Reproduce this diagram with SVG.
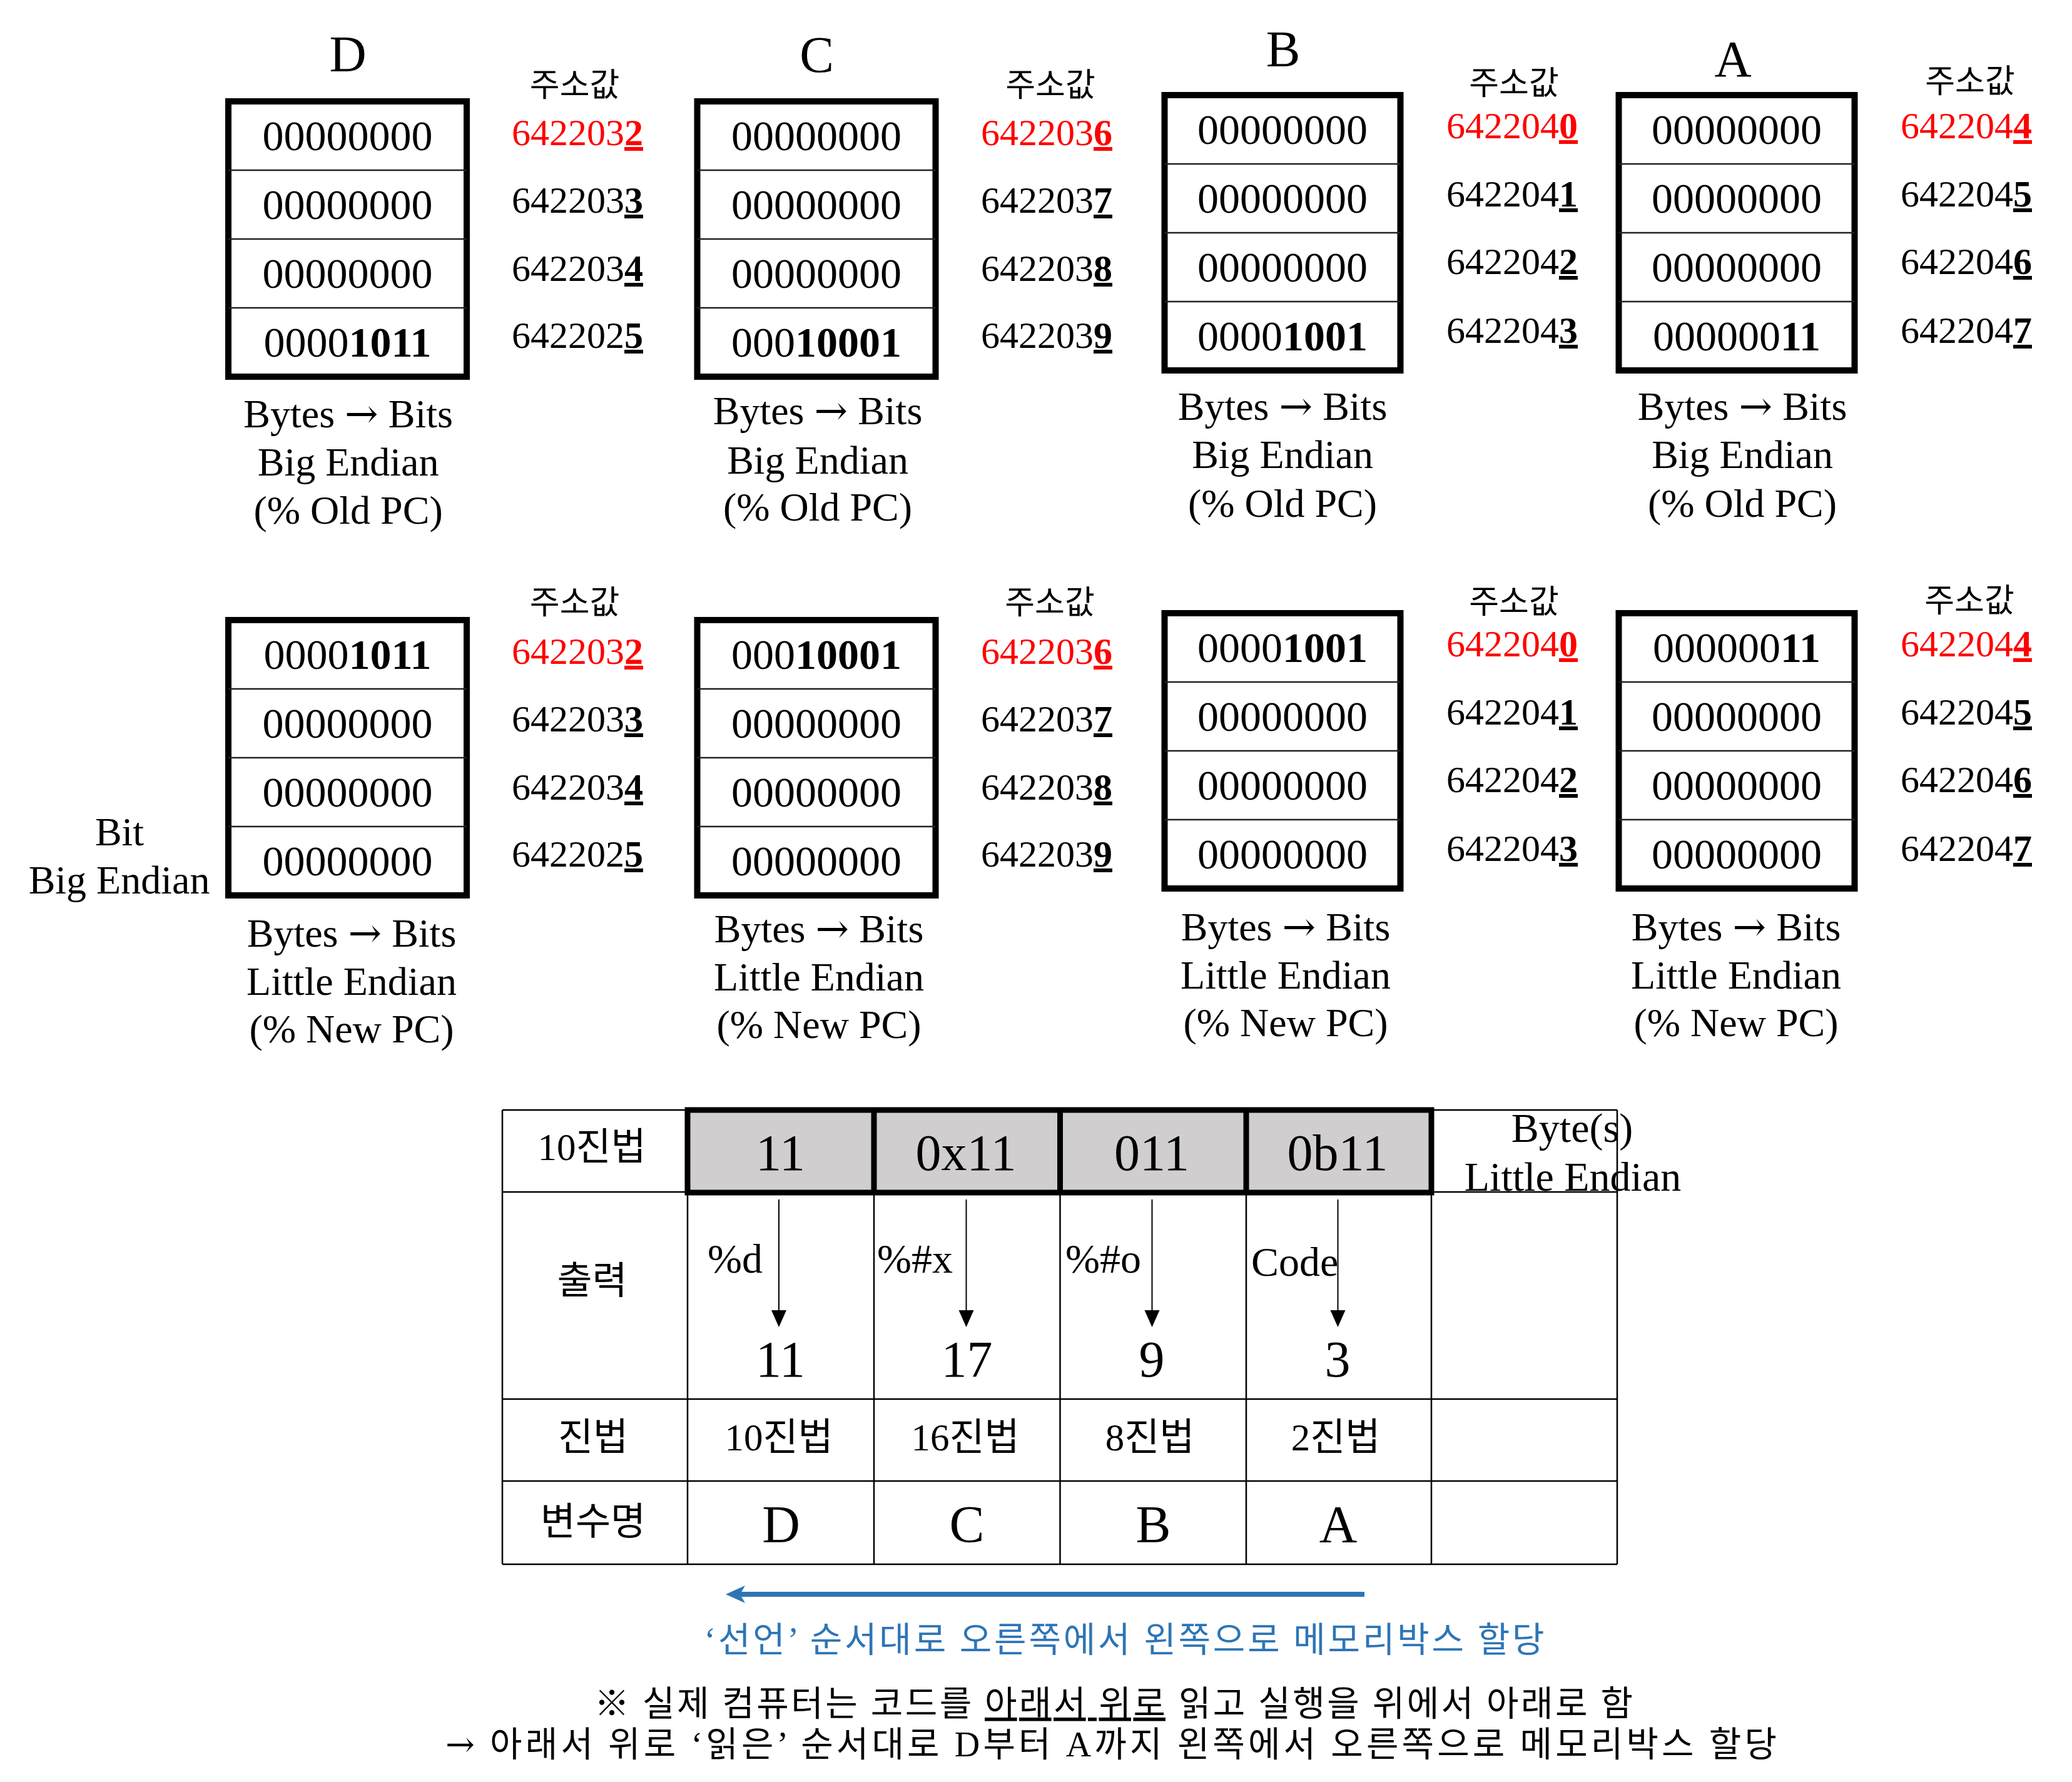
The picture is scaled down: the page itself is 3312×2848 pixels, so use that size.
<svg xmlns="http://www.w3.org/2000/svg" width="3312" height="2848" viewBox="0 0 3312 2848">
<style>
text{font-family:"Liberation Serif","Noto Sans CJK KR",serif;fill:#000}
.ar{font-family:"DejaVu Serif",serif}
.box{fill:#fff;stroke:#000;stroke-width:10}
.div{stroke:#222;stroke-width:2.5}
.bin{font-size:68px;text-anchor:middle}
.addr{font-size:60px}
.red{fill:#f00}
.b{font-weight:bold}
.u{text-decoration:underline}
.hd{font-size:82px;text-anchor:middle}
.ko{font-size:52px;text-anchor:middle}
.cap{font-size:64px;text-anchor:middle}
.tl{stroke:#000;stroke-width:2.5;fill:none}
.tk{stroke:#000;stroke-width:9;fill:none}
.kt{font-size:61px;text-anchor:middle}
.big{font-size:82px;text-anchor:middle}
.fmt{font-size:66px}
.var{font-size:84px;text-anchor:middle}
.note{font-size:56px;text-anchor:middle}
.blue{fill:#2E75B6}
</style>
<rect width="3312" height="2848" fill="#fff"/>

<g id="D-big">
<text class="hd" x="556" y="114">D</text>
<text class="ko" x="918.6" y="154">주소값</text>
<rect class="box" x="365" y="162" width="381" height="440"/>
<line class="div" x1="365" y1="272" x2="746" y2="272"/><line class="div" x1="365" y1="382" x2="746" y2="382"/><line class="div" x1="365" y1="492" x2="746" y2="492"/>
<text class="bin" x="555.5" y="240">00000000</text>
<text class="bin" x="555.5" y="350">00000000</text>
<text class="bin" x="555.5" y="460">00000000</text>
<text class="bin" x="555.5" y="570">0000<tspan class="b">1011</tspan></text>
<text class="addr red" x="818" y="232">642203<tspan class="b u">2</tspan></text>
<text class="addr" x="818" y="340">642203<tspan class="b u">3</tspan></text>
<text class="addr" x="818" y="449">642203<tspan class="b u">4</tspan></text>
<text class="addr" x="818" y="556">642202<tspan class="b u">5</tspan></text>
<text class="cap" x="556.6" y="683">Bytes <tspan class="ar">→</tspan> Bits</text>
<text class="cap" x="556.6" y="760">Big Endian</text>
<text class="cap" x="556.6" y="837">(% Old PC)</text>
</g>

<g id="C-big">
<text class="hd" x="1305.6" y="115">C</text>
<text class="ko" x="1679" y="153.5">주소값</text>
<rect class="box" x="1114.5" y="162" width="381" height="440"/>
<line class="div" x1="1114.5" y1="272" x2="1495.5" y2="272"/><line class="div" x1="1114.5" y1="382" x2="1495.5" y2="382"/><line class="div" x1="1114.5" y1="492" x2="1495.5" y2="492"/>
<text class="bin" x="1305" y="240">00000000</text>
<text class="bin" x="1305" y="350">00000000</text>
<text class="bin" x="1305" y="460">00000000</text>
<text class="bin" x="1305" y="570">000<tspan class="b">10001</tspan></text>
<text class="addr red" x="1568" y="232">642203<tspan class="b u">6</tspan></text>
<text class="addr" x="1568" y="340">642203<tspan class="b u">7</tspan></text>
<text class="addr" x="1568" y="449">642203<tspan class="b u">8</tspan></text>
<text class="addr" x="1568" y="556">642203<tspan class="b u">9</tspan></text>
<text class="cap" x="1307" y="678">Bytes <tspan class="ar">→</tspan> Bits</text>
<text class="cap" x="1307" y="756.5">Big Endian</text>
<text class="cap" x="1307" y="831.5">(% Old PC)</text>
</g>

<g id="B-big">
<text class="hd" x="2051" y="106">B</text>
<text class="ko" x="2420" y="151">주소값</text>
<rect class="box" x="1861.5" y="152" width="377" height="440"/>
<line class="div" x1="1861.5" y1="262" x2="2238.5" y2="262"/><line class="div" x1="1861.5" y1="372" x2="2238.5" y2="372"/><line class="div" x1="1861.5" y1="482" x2="2238.5" y2="482"/>
<text class="bin" x="2050" y="230">00000000</text>
<text class="bin" x="2050" y="340">00000000</text>
<text class="bin" x="2050" y="450">00000000</text>
<text class="bin" x="2050" y="560">0000<tspan class="b">1001</tspan></text>
<text class="addr red" x="2312" y="221">642204<tspan class="b u">0</tspan></text>
<text class="addr" x="2312" y="330">642204<tspan class="b u">1</tspan></text>
<text class="addr" x="2312" y="438">642204<tspan class="b u">2</tspan></text>
<text class="addr" x="2312" y="548">642204<tspan class="b u">3</tspan></text>
<text class="cap" x="2050" y="671">Bytes <tspan class="ar">→</tspan> Bits</text>
<text class="cap" x="2050" y="748">Big Endian</text>
<text class="cap" x="2050" y="826">(% Old PC)</text>
</g>

<g id="A-big">
<text class="hd" x="2770" y="122">A</text>
<text class="ko" x="3149" y="148">주소값</text>
<rect class="box" x="2587.5" y="152" width="377" height="440"/>
<line class="div" x1="2587.5" y1="262" x2="2964.5" y2="262"/><line class="div" x1="2587.5" y1="372" x2="2964.5" y2="372"/><line class="div" x1="2587.5" y1="482" x2="2964.5" y2="482"/>
<text class="bin" x="2776" y="230">00000000</text>
<text class="bin" x="2776" y="340">00000000</text>
<text class="bin" x="2776" y="450">00000000</text>
<text class="bin" x="2776" y="560">000000<tspan class="b">11</tspan></text>
<text class="addr red" x="3038" y="221">642204<tspan class="b u">4</tspan></text>
<text class="addr" x="3038" y="330">642204<tspan class="b u">5</tspan></text>
<text class="addr" x="3038" y="438">642204<tspan class="b u">6</tspan></text>
<text class="addr" x="3038" y="548">642204<tspan class="b u">7</tspan></text>
<text class="cap" x="2785" y="671">Bytes <tspan class="ar">→</tspan> Bits</text>
<text class="cap" x="2785" y="748">Big Endian</text>
<text class="cap" x="2785" y="826">(% Old PC)</text>
</g>

<g id="bit-label">
<text class="cap" x="191" y="1351">Bit</text>
<text class="cap" x="190.5" y="1428">Big Endian</text>
</g>

<g id="D-little">
<text class="ko" x="918.6" y="981">주소값</text>
<rect class="box" x="365" y="991" width="381" height="440"/>
<line class="div" x1="365" y1="1101" x2="746" y2="1101"/><line class="div" x1="365" y1="1211" x2="746" y2="1211"/><line class="div" x1="365" y1="1321" x2="746" y2="1321"/>
<text class="bin" x="555.5" y="1069">0000<tspan class="b">1011</tspan></text>
<text class="bin" x="555.5" y="1179">00000000</text>
<text class="bin" x="555.5" y="1289">00000000</text>
<text class="bin" x="555.5" y="1399">00000000</text>
<text class="addr red" x="818" y="1061">642203<tspan class="b u">2</tspan></text>
<text class="addr" x="818" y="1169">642203<tspan class="b u">3</tspan></text>
<text class="addr" x="818" y="1278">642203<tspan class="b u">4</tspan></text>
<text class="addr" x="818" y="1385">642202<tspan class="b u">5</tspan></text>
<text class="cap" x="562" y="1513">Bytes <tspan class="ar">→</tspan> Bits</text>
<text class="cap" x="562" y="1589.5">Little Endian</text>
<text class="cap" x="562" y="1666">(% New PC)</text>
</g>

<g id="C-little">
<text class="ko" x="1678" y="981">주소값</text>
<rect class="box" x="1114.5" y="991" width="381" height="440"/>
<line class="div" x1="1114.5" y1="1101" x2="1495.5" y2="1101"/><line class="div" x1="1114.5" y1="1211" x2="1495.5" y2="1211"/><line class="div" x1="1114.5" y1="1321" x2="1495.5" y2="1321"/>
<text class="bin" x="1305" y="1069">000<tspan class="b">10001</tspan></text>
<text class="bin" x="1305" y="1179">00000000</text>
<text class="bin" x="1305" y="1289">00000000</text>
<text class="bin" x="1305" y="1399">00000000</text>
<text class="addr red" x="1568" y="1061">642203<tspan class="b u">6</tspan></text>
<text class="addr" x="1568" y="1169">642203<tspan class="b u">7</tspan></text>
<text class="addr" x="1568" y="1278">642203<tspan class="b u">8</tspan></text>
<text class="addr" x="1568" y="1385">642203<tspan class="b u">9</tspan></text>
<text class="cap" x="1309" y="1506">Bytes <tspan class="ar">→</tspan> Bits</text>
<text class="cap" x="1309" y="1582.5">Little Endian</text>
<text class="cap" x="1309" y="1658.5">(% New PC)</text>
</g>

<g id="B-little">
<text class="ko" x="2420" y="980">주소값</text>
<rect class="box" x="1861.5" y="980" width="377" height="440"/>
<line class="div" x1="1861.5" y1="1090" x2="2238.5" y2="1090"/><line class="div" x1="1861.5" y1="1200" x2="2238.5" y2="1200"/><line class="div" x1="1861.5" y1="1310" x2="2238.5" y2="1310"/>
<text class="bin" x="2050" y="1058">0000<tspan class="b">1001</tspan></text>
<text class="bin" x="2050" y="1168">00000000</text>
<text class="bin" x="2050" y="1278">00000000</text>
<text class="bin" x="2050" y="1388">00000000</text>
<text class="addr red" x="2312" y="1049">642204<tspan class="b u">0</tspan></text>
<text class="addr" x="2312" y="1158">642204<tspan class="b u">1</tspan></text>
<text class="addr" x="2312" y="1266">642204<tspan class="b u">2</tspan></text>
<text class="addr" x="2312" y="1376">642204<tspan class="b u">3</tspan></text>
<text class="cap" x="2055" y="1502.5">Bytes <tspan class="ar">→</tspan> Bits</text>
<text class="cap" x="2055" y="1580">Little Endian</text>
<text class="cap" x="2055" y="1656">(% New PC)</text>
</g>

<g id="A-little">
<text class="ko" x="3148" y="978">주소값</text>
<rect class="box" x="2587.5" y="980" width="377" height="440"/>
<line class="div" x1="2587.5" y1="1090" x2="2964.5" y2="1090"/><line class="div" x1="2587.5" y1="1200" x2="2964.5" y2="1200"/><line class="div" x1="2587.5" y1="1310" x2="2964.5" y2="1310"/>
<text class="bin" x="2776" y="1058">000000<tspan class="b">11</tspan></text>
<text class="bin" x="2776" y="1168">00000000</text>
<text class="bin" x="2776" y="1278">00000000</text>
<text class="bin" x="2776" y="1388">00000000</text>
<text class="addr red" x="3038" y="1049">642204<tspan class="b u">4</tspan></text>
<text class="addr" x="3038" y="1158">642204<tspan class="b u">5</tspan></text>
<text class="addr" x="3038" y="1266">642204<tspan class="b u">6</tspan></text>
<text class="addr" x="3038" y="1376">642204<tspan class="b u">7</tspan></text>
<text class="cap" x="2775" y="1502.5">Bytes <tspan class="ar">→</tspan> Bits</text>
<text class="cap" x="2775" y="1580">Little Endian</text>
<text class="cap" x="2775" y="1656">(% New PC)</text>
</g>

<g id="table">
<path class="tl" d="M803,1774H1099M2288,1774H2585M803,1905H2585M803,2236H2585M803,2367H2585M803,2500H2585M803,1774V2500M1099,1905V2500M1397,1905V2500M1694.5,1905V2500M1992,1905V2500M2288,1905V2500M2585,1774V2500"/>
<rect x="1099" y="1774" width="1189" height="132" fill="#D0CECE" stroke="#000" stroke-width="9"/>
<path class="tk" d="M1397,1774V1906M1694.5,1774V1906M1992,1774V1906"/>
<text class="kt" x="946" y="1854">10진법</text>
<text class="big" x="1247.5" y="1870">11</text>
<text class="big" x="1544" y="1870">0x11</text>
<text class="big" x="1841" y="1870">011</text>
<text class="big" x="2138" y="1870">0b11</text>
<text class="cap" x="2513" y="1825" style="font-size:66px">Byte(s)</text>
<text class="cap" x="2514" y="1903" style="font-size:66px">Little Endian</text>
<text class="kt" x="946.5" y="2068">출력</text>
<text class="fmt" x="1131" y="2034">%d</text>
<text class="fmt" x="1402" y="2034">%#x</text>
<text class="fmt" x="1703" y="2034">%#o</text>
<text class="fmt" x="2000" y="2039">Code</text>
<text class="big" x="1247.5" y="2200">11</text>
<text class="big" x="1545.5" y="2200">17</text>
<text class="big" x="1841" y="2200">9</text>
<text class="big" x="2138" y="2200">3</text>
<text class="kt" x="948" y="2318">진법</text>
<text class="kt" x="1245" y="2318">10진법</text>
<text class="kt" x="1543" y="2318">16진법</text>
<text class="kt" x="1838" y="2318">8진법</text>
<text class="kt" x="2135" y="2318">2진법</text>
<text class="kt" x="948" y="2453">변수명</text>
<text class="var" x="1248.5" y="2465">D</text>
<text class="var" x="1545.5" y="2465">C</text>
<text class="var" x="1843.5" y="2465">B</text>
<text class="var" x="2139" y="2465">A</text>
</g>

<g id="connectors">
<g stroke="#000" stroke-width="2">
<line x1="1245" y1="1917" x2="1245" y2="2096"/>
<line x1="1544.5" y1="1917" x2="1544.5" y2="2096"/>
<line x1="1841.5" y1="1917" x2="1841.5" y2="2096"/>
<line x1="2138.5" y1="1917" x2="2138.5" y2="2096"/>
</g>
<path d="M1233,2094L1257,2094L1245,2121Z M1532.5,2094L1556.5,2094L1544.5,2121Z M1829.5,2094L1853.5,2094L1841.5,2121Z M2126.5,2094L2150.5,2094L2138.5,2121Z" fill="#000"/>
<line x1="1182" y1="2548" x2="2181" y2="2548" stroke="#2E75B6" stroke-width="8"/>
<path d="M1160,2548L1191,2534L1183,2548L1191,2562Z" fill="#2E75B6"/>
</g>

<g id="notes">
<text class="note blue" x="1797" y="2640" textLength="1343" lengthAdjust="spacing">‘선언’ 순서대로 오른쪽에서 왼쪽으로 메모리박스 할당</text>
<text class="note" x="1780" y="2742" textLength="1660" lengthAdjust="spacing">※ 실제 컴퓨터는 코드를 <tspan class="u">아래서 위로</tspan> 읽고 실행을 위에서 아래로 함</text>
<text class="note" x="1776" y="2807" textLength="2128" lengthAdjust="spacing"><tspan class="ar">→</tspan> 아래서 위로 ‘읽은’ 순서대로 D부터 A까지 왼쪽에서 오른쪽으로 메모리박스 할당</text>
</g>
</svg>
